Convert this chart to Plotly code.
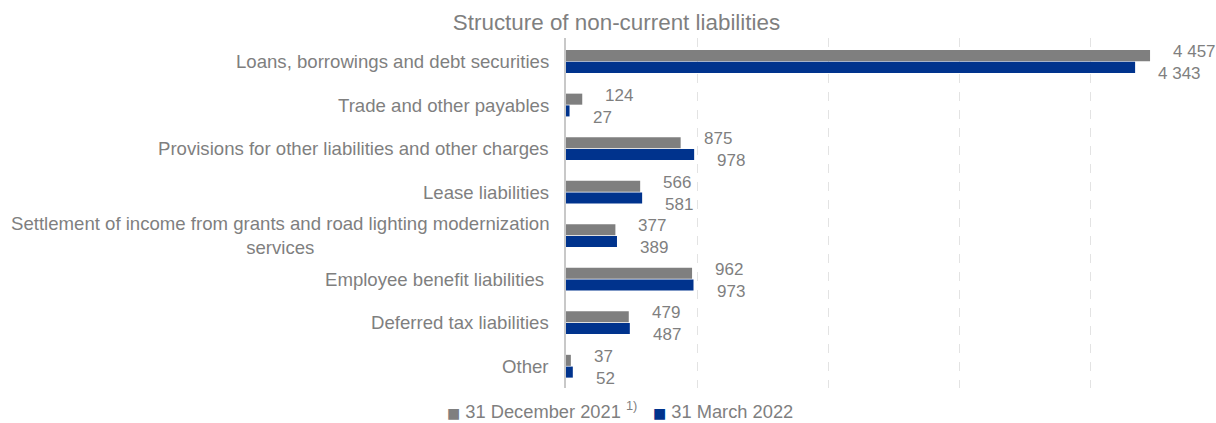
import plotly.graph_objects as go

# Non-current liabilities, PLN m
categories = [
    "Loans, borrowings and debt securities",
    "Trade and other payables",
    "Provisions for other liabilities and other charges",
    "Lease liabilities",
    "Settlement of income from grants and road lighting modernization<br>services",
    "Employee benefit liabilities ",
    "Deferred tax liabilities",
    "Other",
]
dec_2021 = [4457, 124, 875, 566, 377, 962, 479, 37]
mar_2022 = [4343, 27, 978, 581, 389, 973, 487, 52]

series_names = ["31 December 2021 <sup>1)</sup>", "31 March 2022"]
series_colors = ["#7F7F7F", "#00338D"]

TEXT = "#7F7F7F"
FONT = "Liberation Sans, Arial, sans-serif"

# plot area in pixels
W, H = 1216, 423
L, R, T, B = 566, 21, 38, 35


def fmt(v):
    return f"{v:,}".replace(",", " ")


def paper_x(px):
    return (px - L) / (W - L - R)


def paper_y(py):
    return (H - B - py) / (H - T - B)


fig = go.Figure()
for name, vals, col in zip(series_names, [dec_2021, mar_2022], series_colors):
    fig.add_trace(go.Bar(
        y=categories, x=vals, name=name, orientation="h",
        marker=dict(color=col, line=dict(width=0)),
        hoverinfo="x+y", showlegend=False,
    ))

annotations = []
# value labels: first series above its bar, second below
for vals, ysh in [(dec_2021, 10), (mar_2022, -12)]:
    for cat, v in zip(categories, vals):
        annotations.append(dict(
            x=v, y=cat, xref="x", yref="y", text=fmt(v),
            xanchor="left", yanchor="middle", xshift=21, yshift=ysh,
            showarrow=False, font=dict(size=17, color=TEXT, family=FONT),
        ))

# category labels, centred for multi-line text
for cat in categories:
    annotations.append(dict(
        x=0, y=cat, xref="paper", yref="y", text=cat,
        xanchor="right", yanchor="middle", xshift=-15, align="center",
        showarrow=False, font=dict(size=18.6, color=TEXT, family=FONT),
    ))

# legend row with compact square swatches, sitting on the bottom edge
for name, col, px in zip(series_names, series_colors, [446, 652]):
    swatch = (f"<span style='font-family:DejaVu Sans;font-size:14px;color:{col}'>"
              f"\u25A0</span>")
    annotations.append(dict(
        x=paper_x(px), y=paper_y(H), xref="paper", yref="paper",
        text=swatch + " " + name, xanchor="left", yanchor="bottom",
        showarrow=False, borderpad=0, font=dict(size=18.3, color=TEXT, family=FONT),
    ))

fig.update_layout(
    width=W, height=H,
    margin=dict(l=L, r=R, t=T, b=B, autoexpand=False),
    paper_bgcolor="white", plot_bgcolor="white",
    font=dict(family=FONT, color=TEXT, size=17),
    title=dict(text="Structure of non-current liabilities", x=0.507, xanchor="center",
               y=0.948, yanchor="middle", font=dict(size=22.4, color=TEXT, family=FONT)),
    barmode="group", bargap=0.46, bargroupgap=0.06,
    showlegend=False,
    annotations=annotations,
)
fig.update_xaxes(range=[0, 4800], dtick=1000, showgrid=True, gridcolor="#E3E3E3",
                 griddash="dash", gridwidth=1, zeroline=False, showticklabels=False,
                 showline=False, fixedrange=True)
fig.update_yaxes(autorange="reversed", showticklabels=False, showgrid=False,
                 showline=True, linecolor="#C8C8C8", linewidth=1.5, zeroline=False,
                 ticks="", fixedrange=True)

fig.write_html("out.html")
